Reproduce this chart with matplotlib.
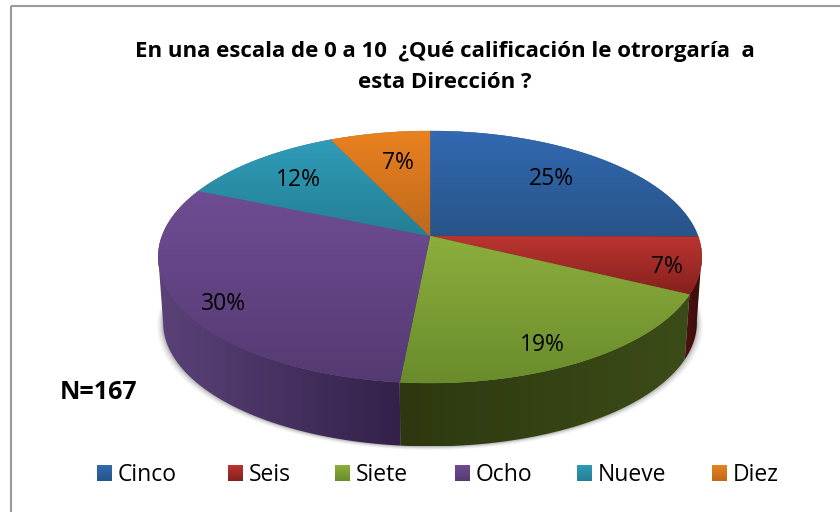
import numpy as np
import matplotlib
matplotlib.use("Agg")
import matplotlib.pyplot as plt
from matplotlib.colors import LinearSegmentedColormap
from matplotlib.patches import Polygon, Rectangle

categories = ["Cinco", "Seis", "Siete", "Ocho", "Nueve", "Diez"]
shares = [25.1, 7.2, 19.2, 29.9, 11.6, 7.0]
pct_labels = ["25%", "7%", "19%", "30%", "12%", "7%"]
top_light = ["#3269b1", "#bb3430", "#8cae3c", "#6f4c93", "#2f9cb9", "#e9811f"]
top_dark = ["#285488", "#84211d", "#6a8c2c", "#553a72", "#257f94", "#bf691d"]
side_light = ["#23406a", "#4f1210", "#3c4c18", "#5a4278", "#1d6070", "#8c4c14"]
side_dark = ["#1a3050", "#370b0a", "#2d3810", "#33214a", "#15505f", "#6c3a10"]
title = "En una escala de 0 a 10  ¿Qué calificación le otrorgaría  a\nesta Dirección ?"
note = "N=167"

FONT = "Open Sans"
W, H = 840, 512
fig = plt.figure(figsize=(W / 100, H / 100), dpi=100)
ax = fig.add_axes([0, 0, 1, 1])
ax.set_xlim(0, W)
ax.set_ylim(H, 0)
ax.axis("off")

# perspective projection of the disc
CX, CY, RX, RY, K, DEPTH, SCALE = 430, 236, 268, 122.5, 1 / 6, 66, 0.982


def project(t, bottom=False):
    w = 1 + K * np.sin(t)
    x = RX * np.cos(t) / w
    y = -RY * np.sin(t) / w
    if bottom:
        return CX + SCALE * x, CY + DEPTH + SCALE * y
    return CX + x, CY + y


def gradient(c0, c1, horizontal=False):
    cm = LinearSegmentedColormap.from_list("g", [c0, c1])
    arr = np.linspace(0, 1, 64)
    return cm, (arr[None, :] if horizontal else arr[:, None])


# shadow
tt = np.linspace(0, 2 * np.pi, 361)
for grow, a in zip([6, 4.5, 3, 2, 1], [0.04, 0.05, 0.06, 0.07, 0.08]):
    bx, by = project(tt, True)
    ax.add_patch(Polygon(np.c_[CX + (bx - CX) * (1 + grow / 270), by + grow * 0.6],
                         fc="black", ec="none", alpha=a, zorder=1))

fractions = np.cumsum([0] + shares) / sum(shares)
angles = np.pi / 2 - 2 * np.pi * fractions

# sides
for i in range(len(shares)):
    t = np.linspace(angles[i], angles[i + 1], 120)
    vis = np.sin(t) < -K * 0.9
    if not vis.any():
        continue
    t = t[vis]
    tx, ty = project(t)
    bx, by = project(t, True)
    pts = np.r_[np.c_[tx, ty], np.c_[bx, by][::-1]]
    poly = Polygon(pts, fc="none", ec="none", zorder=2)
    ax.add_patch(poly)
    cm, g = gradient(side_light[i], side_dark[i], True)
    if i == 2:
        g = g[:, ::-1]
    im = ax.imshow(g, extent=[pts[:, 0].min(), pts[:, 0].max(), pts[:, 1].max(), pts[:, 1].min()],
                   cmap=cm, aspect="auto", zorder=2)
    im.set_clip_path(poly)

# top faces and percentage labels
label_f = [0.74, 0.85, 0.62, 0.78, 0.72, 0.74]
label_dx = [-4, 6, 18, -10, -7, 5]
label_dy = [0, 6, 31, 15, -1, 3]
for i in range(len(shares)):
    t = np.linspace(angles[i], angles[i + 1], 160)
    x, y = project(t)
    pts = np.r_[[[CX, CY]], np.c_[x, y]]
    poly = Polygon(pts, fc=top_dark[i], ec=top_dark[i], lw=0.3, zorder=3)
    ax.add_patch(poly)
    cm, g = gradient(top_light[i], top_dark[i])
    im = ax.imshow(g, extent=[pts[:, 0].min(), pts[:, 0].max(), pts[:, 1].max(), pts[:, 1].min()],
                   cmap=cm, aspect="auto", zorder=3)
    im.set_clip_path(poly)
    mid = (angles[i] + angles[i + 1]) / 2
    lx, ly = project(mid)
    f = label_f[i]
    ax.text(CX + (lx - CX) * f + label_dx[i], CY + (ly - CY) * f + label_dy[i], pct_labels[i],
            fontsize=16.5, family=FONT, ha="center", va="center", color="black", zorder=5)

# chart frame
ax.add_patch(Rectangle((11, 5.5), W, H + 5, fc="none", ec="#999999", lw=1.5, zorder=0))

ax.text(445, 67, title, fontsize=16, fontweight="bold", family=FONT, ha="center",
        va="center", linespacing=1.6, zorder=5)
ax.text(99, 392.5, note, fontsize=18, fontweight="bold", family=FONT, ha="center",
        va="center", zorder=5)

# legend
swatch_x = [97, 228, 335, 455, 577, 712]
for xs, name, c0, c1 in zip(swatch_x, categories, top_light, top_dark):
    cm, g = gradient(c0, c1)
    ax.imshow(g, extent=[xs, xs + 15, 481, 465], cmap=cm, aspect="auto", zorder=5)
    ax.text(xs + 21, 475, name, fontsize=16.5, family=FONT, ha="left", va="center", zorder=5)

ax.set_xlim(0, W)
ax.set_ylim(H, 0)
fig.savefig("out.png", dpi=100)
